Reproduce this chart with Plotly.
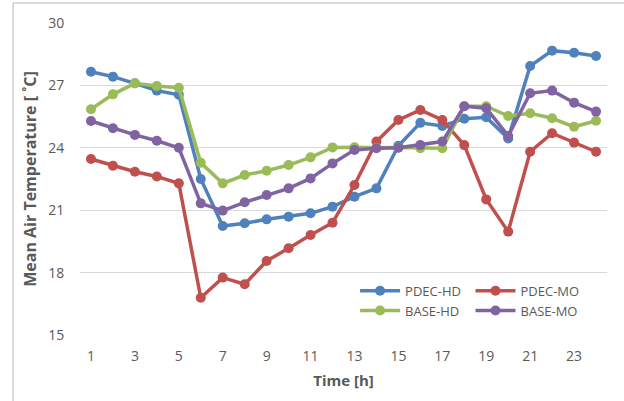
import plotly.graph_objects as go

hours = list(range(1, 25))
pdec_hd = [27.66, 27.42, 27.1, 26.75, 26.55, 22.5, 20.24, 20.37, 20.56, 20.69, 20.85, 21.17,
           21.65, 22.05, 24.1, 25.2, 25.05, 25.4, 25.47, 24.45, 27.93, 28.67, 28.57, 28.41]
pdec_mo = [23.46, 23.14, 22.85, 22.62, 22.29, 16.79, 17.76, 17.44, 18.56, 19.17, 19.81, 20.4,
           22.21, 24.3, 25.34, 25.82, 25.34, 24.13, 21.52, 19.97, 23.81, 24.7, 24.25, 23.81]
base_hd = [25.85, 26.57, 27.1, 26.97, 26.89, 23.28, 22.29, 22.69, 22.9, 23.17, 23.54, 24.02,
           24.03, 24.0, 24.02, 23.98, 23.98, 26.0, 26.0, 25.53, 25.66, 25.42, 25.01, 25.3]
base_mo = [25.29, 24.94, 24.62, 24.34, 24.0, 21.33, 20.98, 21.38, 21.73, 22.05, 22.53, 23.25,
           23.9, 23.98, 24.0, 24.13, 24.3, 26.0, 25.9, 24.57, 26.62, 26.75, 26.17, 25.74]
x_ticks = [1, 3, 5, 7, 9, 11, 13, 15, 17, 19, 21, 23]
y_ticks = [15, 18, 21, 24, 27, 30]

series = [
    ("PDEC-HD", pdec_hd, "#4F81BD", "legend"),
    ("PDEC-MO", pdec_mo, "#C0504D", "legend2"),
    ("BASE-HD", base_hd, "#9BBB59", "legend"),
    ("BASE-MO", base_mo, "#8064A2", "legend2"),
]

fig = go.Figure()
for name, vals, color, leg in series:
    fig.add_trace(go.Scatter(
        x=hours, y=vals, name=name, mode="lines+markers",
        line=dict(color=color, width=3.5),
        marker=dict(color=color, size=10),
        legend=leg,
    ))

font_family = "Open Sans, Liberation Sans, Arial, sans-serif"
gray = "#595959"

legend_common = dict(
    orientation="v", xanchor="left", yanchor="top",
    font=dict(family=font_family, size=13, color=gray),
    bgcolor="rgba(255,255,255,0)", itemwidth=40, tracegroupgap=0,
)

fig.update_layout(
    width=624, height=401,
    margin=dict(l=80, r=17, t=23, b=66),
    paper_bgcolor="white", plot_bgcolor="white",
    font=dict(family=font_family, color=gray),
    showlegend=True,
    legend=dict(x=0.522, y=0.19, **legend_common),
    legend2=dict(x=0.741, y=0.19, **legend_common),
    xaxis=dict(
        range=[0.5, 24.5], tickvals=x_ticks, showgrid=False, zeroline=False,
        showline=False, ticks="outside", ticklen=8, tickcolor="rgba(0,0,0,0)",
        tickfont=dict(size=14, color=gray),
        title=dict(text="<b>Time [h]</b>", font=dict(size=15, color=gray), standoff=11),
    ),
    yaxis=dict(
        range=[15, 30], tickvals=y_ticks, showgrid=True, gridcolor="#D9D9D9", gridwidth=1,
        zeroline=False, showline=False, ticks="outside", ticklen=12,
        tickcolor="rgba(0,0,0,0)", tickfont=dict(size=14, color=gray),
        title=dict(text="<b>Mean Air Temperature [ ˚C]</b>", font=dict(size=16, color=gray), standoff=7),
    ),
    shapes=[
        dict(type="line", xref="paper", yref="paper", x0=-0.127, x1=1.1, y0=1.064, y1=1.064,
             line=dict(color="#CFCFCF", width=1.5)),
        dict(type="line", xref="paper", yref="paper", x0=-0.127, x1=-0.127, y0=1.064, y1=-0.3,
             line=dict(color="#CFCFCF", width=1.5)),
    ],
)

fig.write_html("out.html", config={"displayModeBar": False},
               post_script="document.body.style.margin='0';")
